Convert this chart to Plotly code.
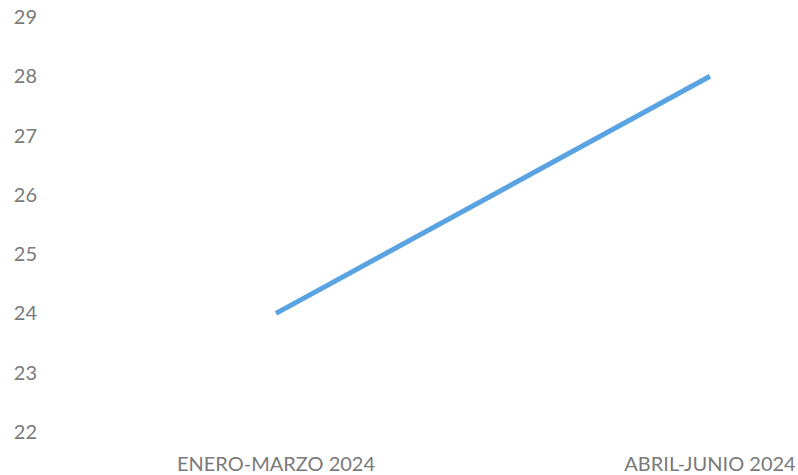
import plotly.graph_objects as go

categories = ["ENERO-MARZO 2024", "ABRIL-JUNIO 2024"]
values = [24, 28]

fig = go.Figure()
fig.add_trace(go.Scatter(
    x=[0, 1], y=values, mode="lines",
    line=dict(color="#5AA3E2", width=5),
    hoverinfo="skip", showlegend=False,
))

l, r, t, b = 38, 2, 17, 43
W, H = 798, 475
pw = W - l - r
x0 = 276
step = 434
xmin = -(x0 - l) / step
xmax = xmin + pw / step

fig.update_layout(
    width=W, height=H,
    margin=dict(l=l, r=r, t=t, b=b, autoexpand=False),
    paper_bgcolor="white", plot_bgcolor="white",
    font=dict(family="Lato, 'Open Sans', sans-serif", color="#7a7a7a", size=18),
    xaxis=dict(
        range=[xmin, xmax], tickmode="array", tickvals=[0, 1], ticktext=categories,
        showgrid=False, zeroline=False, showline=False, ticks="", automargin=False,
        ticklabelstandoff=18,
        tickfont=dict(size=20, color="#7a7a7a"),
    ),
    yaxis=dict(
        range=[22, 29], tickmode="array", tickvals=list(range(22, 30)),
        showgrid=False, zeroline=False, showline=False, ticks="", automargin=False,
        tickfont=dict(size=20, color="#7a7a7a"),
    ),
)

fig.write_html(
    "out.html",
    config={"displayModeBar": False},
    post_script="document.body.style.margin='0';document.body.style.overflow='hidden';",
)
